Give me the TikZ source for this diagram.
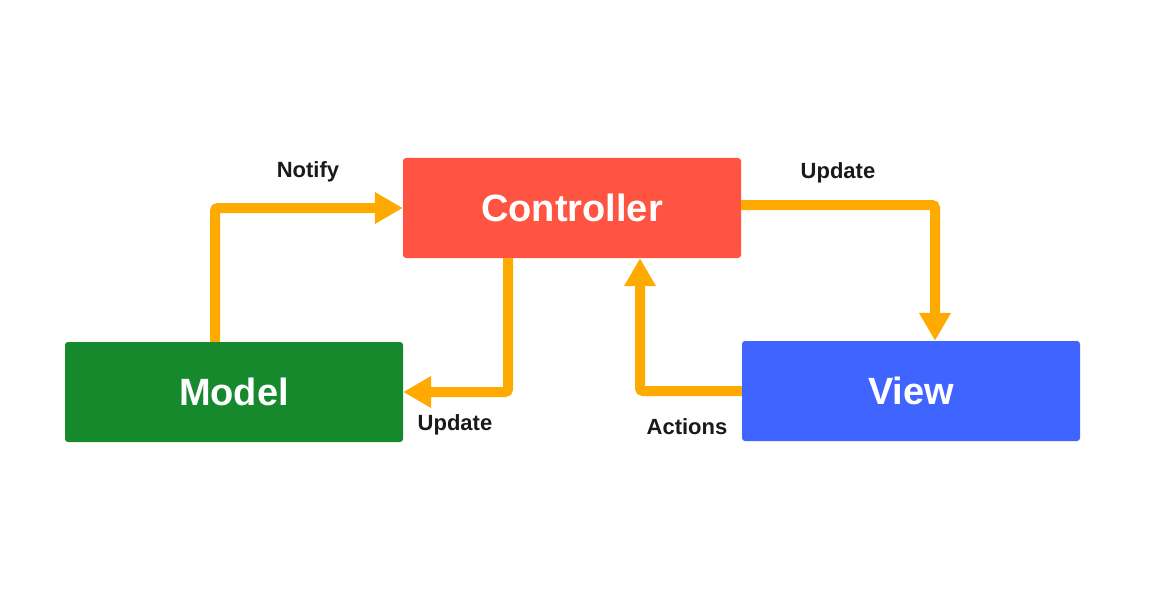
\documentclass[tikz,border=0pt]{standalone}
\usepackage{fontspec}
\setmainfont{Liberation Sans}
\usetikzlibrary{arrows.meta}
\definecolor{ctrlred}{HTML}{FF5441}
\definecolor{modelgreen}{HTML}{15892C}
\definecolor{viewblue}{HTML}{4064FF}
\definecolor{arroworange}{HTML}{FFAA00}
\definecolor{labelblack}{HTML}{1A1A1A}
\tikzset{
  mvcbox/.style={rectangle, rounded corners=3pt, minimum width=338pt, minimum height=100pt,
    inner sep=0pt, text=white, font=\fontsize{38}{40}\selectfont\bfseries},
  flow/.style={draw=arroworange, line width=10pt, rounded corners=3pt,
    -{Triangle[length=28pt,width=30pt]}},
  lbl/.style={text=labelblack, font=\fontsize{22}{24}\selectfont\bfseries, inner sep=0pt}
}
\begin{document}
\begin{tikzpicture}[x=1pt,y=-1pt]
\useasboundingbox[fill=white] (0,0) rectangle (1169,604);
\node[mvcbox, fill=ctrlred] (ctrl) at (572,208) {Controller};
\node[mvcbox, fill=modelgreen] (model) at (234,392) {Model};
\node[mvcbox, fill=viewblue] (view) at (911,391) {View};
\draw[flow] ([xshift=-19pt]model.north) |- (ctrl.west);
\draw[flow] ([yshift=3pt]ctrl.east) -| ([xshift=24pt]view.north);
\draw[flow] ([xshift=-64pt]ctrl.south) |- (model.east);
\draw[flow] (view.west) -| ([xshift=68pt]ctrl.south);
\node[lbl] (lnotify) at (308,172) {Notify};
\node[lbl] (lupd1) at (838,173) {Update};
\node[lbl] (lupd2) at (455,425) {Update};
\node[lbl] (lact) at (687,427) {Actions};
\end{tikzpicture}
\end{document}
